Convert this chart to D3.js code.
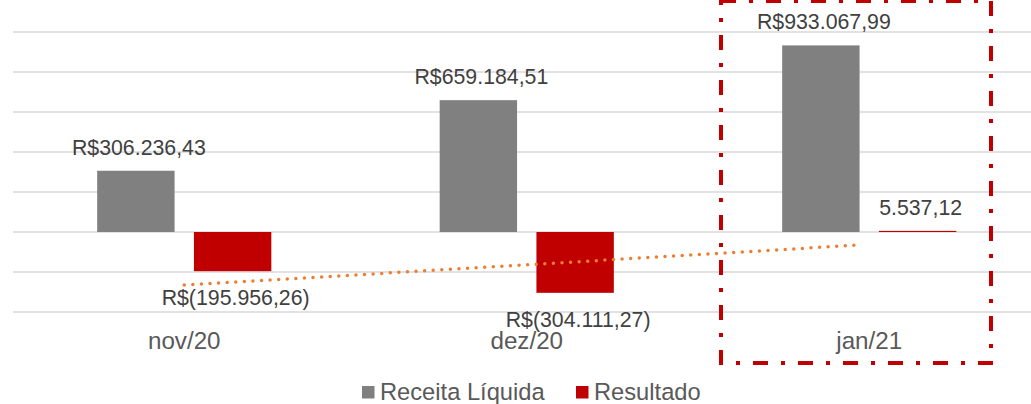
<!DOCTYPE html>
<html>
<head>
<meta charset="utf-8">
<script src="https://cdn.jsdelivr.net/npm/d3@7"></script>
<style>
  body { margin: 0; background: #fff; }
  text { font-family: "Liberation Sans", Arial, sans-serif; }
</style>
</head>
<body>
<div id="chart"></div>
<script>
var width = 1031,
    height = 404

var months = ["nov/20", "dez/20", "jan/21"]
var series = ["Receita Líquida", "Resultado"]
var receita = [306236.43, 659184.51, 933067.99]
var resultado = [-195956.26, -304111.27, 5537.12]
var valueLabels = ["R$306.236,43", "R$659.184,51", "R$933.067,99"]
var resultLabels = ["R$(195.956,26)", "R$(304.111,27)", "5.537,12"]
var gridTicks = [-400000, -200000, 0, 200000, 400000, 600000, 800000, 1000000]

var colors = { "Receita Líquida": "#808080", "Resultado": "#C00000" }

var svg = d3.select("#chart")
  .append("svg")
    .attr("width", width)
    .attr("height", height)

var x = d3.scaleBand()
  .domain(months)
  .range([13, 1040.5])

var x1 = d3.scaleBand()
  .domain(series)
  .range([0, x.bandwidth()])
  .paddingInner(0.2)
  .paddingOuter(0.87)

var y = d3.scaleLinear()
  .domain([-400000, 1000000])
  .range([312, 32])

// gridlines
svg.append("g")
  .selectAll("line")
  .data(gridTicks)
  .enter()
  .append("line")
    .attr("x1", x.range()[0])
    .attr("x2", x.range()[1])
    .attr("y1", function(d) { return y(d) })
    .attr("y2", function(d) { return y(d) })
    .attr("stroke", "#D9D9D9")
    .attr("stroke-width", 1.5)

var rows = months.map(function(m, i) {
  return { month: m, values: [
    { key: series[0], value: receita[i], label: valueLabels[i] },
    { key: series[1], value: resultado[i], label: resultLabels[i] }
  ] }
})

var groups = svg.selectAll("g.month")
  .data(rows)
  .enter()
  .append("g")
    .attr("class", "month")
    .attr("transform", function(d) { return "translate(" + x(d.month) + ",0)" })

groups.selectAll("rect")
  .data(function(d) { return d.values })
  .enter()
  .append("rect")
    .attr("x", function(d) { return x1(d.key) })
    .attr("width", x1.bandwidth())
    .attr("y", function(d) { return y(Math.max(0, d.value)) })
    .attr("height", function(d) { return Math.abs(y(d.value) - y(0)) })
    .attr("fill", function(d) { return colors[d.key] })

groups.selectAll("text.val")
  .data(function(d) { return d.values })
  .enter()
  .append("text")
    .attr("class", "val")
    .attr("x", function(d) { return x1(d.key) + x1.bandwidth() / 2 + 3 })
    .attr("y", function(d) { return d.value >= 0 ? y(d.value) - 16 : y(d.value) + 34 })
    .attr("text-anchor", "middle")
    .attr("font-size", "21.3px")
    .attr("fill", "#404040")
    .text(function(d) { return d.label })

// linear trendline on Resultado
var n = resultado.length
var xs = d3.range(1, n + 1)
var mx = d3.mean(xs), my = d3.mean(resultado)
var slope = d3.sum(xs, function(v, i) { return (v - mx) * (resultado[i] - my) }) /
            d3.sum(xs, function(v) { return (v - mx) * (v - mx) })
var icpt = my - slope * mx
svg.append("line")
  .attr("x1", x(months[0]) + x.bandwidth() / 2)
  .attr("x2", x(months[n - 1]) + x.bandwidth() / 2 - 7)
  .attr("y1", y(icpt + slope * 1))
  .attr("y2", y(icpt + slope * n))
  .attr("stroke", "#ED7D31")
  .attr("stroke-width", 3.5)
  .attr("stroke-linecap", "round")
  .attr("stroke-dasharray", "0 8.6")

// category labels
svg.append("g")
  .selectAll("text")
  .data(months)
  .enter()
  .append("text")
    .attr("x", function(d) { return x(d) + x.bandwidth() / 2 })
    .attr("y", 349)
    .attr("text-anchor", "middle")
    .attr("font-size", "24.2px")
    .attr("fill", "#595959")
    .text(function(d) { return d })

// highlight box around last month
var bx = x(months[2])
svg.append("rect")
  .attr("x", bx + 23)
  .attr("y", 1)
  .attr("width", 270)
  .attr("height", 362)
  .attr("fill", "none")
  .attr("stroke", "#C00000")
  .attr("stroke-width", 4)
  .attr("stroke-dasharray", "15 13 4 13")

// legend
var legend = svg.append("g")
var legX = [362, 576]
series.forEach(function(s, i) {
  legend.append("rect")
    .attr("x", legX[i])
    .attr("y", 386)
    .attr("width", 12.5)
    .attr("height", 12.5)
    .attr("fill", colors[s])
  legend.append("text")
    .attr("x", legX[i] + 18)
    .attr("y", 400)
    .attr("font-size", "23.7px")
    .attr("fill", "#595959")
    .text(s)
})
</script>
</body>
</html>
